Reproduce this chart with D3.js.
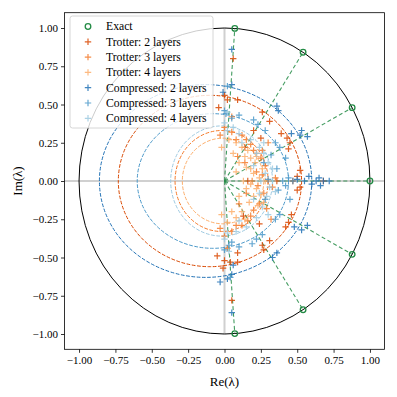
<!DOCTYPE html>
<html>
  <head>
    <meta charset="utf-8">
    <title>Eigenvalues</title>
    <script src="https://d3js.org/d3.v7.min.js"></script>
    <style>
      body { margin: 0; background: #fff; }
      text { font-family: "Liberation Serif", "DejaVu Serif", serif; fill: #000; }
    </style>
  </head>
  <body>
    <div id="graph"></div>
  </body>

  <script>
    // Exact eigenvalue phases (rad) on the unit circle
    const exact_phases = [0, 0.5, 1.0, 1.5, -0.5, -1.0, -1.5];

    // Eigenvalue estimates [Re, Im]
    const trotter_2 = [[0.06,0.80],[0.02,0.53],[0.09,0.53],[0.0,0.56],[0.26,0.45],[0.31,0.39],[0.39,0.31],[0.43,0.28],[0.45,0.25],[0.44,0.21],[0.52,0.07],[0.50,0.03],[0.16,0.0],[0.36,0.0],[0.47,0.0],[0.68,0.0],[0.25,0.28],[0.14,0.22],[-0.04,0.48],[0.20,0.33],
      [0.46,-0.22],[0.44,-0.27],[0.42,-0.30],[0.31,-0.39],[0.26,-0.42],[0.27,-0.45],[0.09,-0.47],[0.0,-0.52],[0.04,-0.53],[0.09,-0.53],[-0.01,-0.57],[-0.05,-0.49],[0.52,-0.04],[0.50,-0.06],[0.24,-0.28],[0.13,-0.23],[0.05,-0.78]];
    const trotter_3 = [[0.0,0.35],[0.05,0.32],[-0.03,0.30],[0.12,0.30],[0.15,0.27],[0.2,0.2],[0.22,0.18],[0.25,0.15],[0.28,0.1],[0.22,0.06],[0.30,0.0],[0.35,0.02],[0.19,0.0],[0.23,-0.03],[0.27,-0.08],[0.24,-0.15],[0.2,-0.19],[0.16,-0.26],[0.12,-0.29],[0.05,-0.33],[0.0,-0.36],[-0.03,-0.31],[0.09,0.16],[0.10,-0.15],[0.3,0.25],[0.32,-0.25],
      [0.08,0.27],[0.18,0.24],[0.26,0.2],[0.14,0.12],[0.26,0.04],[0.33,-0.04],[0.29,-0.18],[0.18,-0.23],[0.08,-0.29],[0.15,-0.08],[0.05,0.42],[0.02,-0.44]];
    const trotter_4 = [[0.03,0.27],[0.08,0.25],[0.12,0.22],[0.16,0.2],[0.18,0.15],[0.21,0.12],[0.15,0.09],[0.20,0.05],[0.24,0.02],[0.13,0.0],[0.18,-0.02],[0.22,-0.05],[0.2,-0.1],[0.17,-0.14],[0.12,-0.2],[0.08,-0.24],[0.02,-0.27],[0.1,0.12],[0.1,-0.1],[0.26,0.08],[0.25,-0.09],[-0.02,0.22],[-0.02,-0.22],
      [0.06,0.18],[0.14,0.16],[0.22,0.16],[0.18,0.08],[0.28,0.0],[0.15,-0.05],[0.23,-0.16],[0.14,-0.25],[0.05,-0.2],[0.08,0.06],[0.27,-0.14]];
    const compressed_2 = [[0.05,0.86],[0.05,0.63],[-0.01,0.58],[0.36,0.49],[0.37,0.46],[0.52,0.30],[0.53,0.33],[0.57,0.29],[0.46,0.31],[0.55,0.0],[0.58,0.03],[0.60,-0.02],[0.63,0.0],[0.65,0.02],[0.68,0.0],[0.72,0.0],[0.66,-0.03],[0.50,0.01],
      [0.53,-0.32],[0.48,-0.30],[0.57,-0.29],[0.36,-0.47],[0.33,-0.50],[0.05,-0.61],[0.02,-0.64],[-0.03,-0.66],[0.06,-0.55],[0.05,-0.86]];
    const compressed_3 = [[0.01,0.44],[0.05,0.41],[0.0,0.46],[0.2,0.40],[0.23,0.37],[0.35,0.25],[0.38,0.22],[0.32,0.17],[0.40,0.0],[0.44,0.02],[0.42,-0.03],[0.30,0.01],[0.47,0.0],[0.38,-0.22],[0.35,-0.25],[0.22,-0.38],[0.19,-0.41],[0.03,-0.42],[0.0,-0.45],[0.05,-0.40],[0.02,0.62],[0.04,-0.63],[0.28,-0.12],[0.27,0.12],
      [0.28,0.33],[0.42,0.15],[0.45,-0.12],[0.26,-0.35],[0.1,-0.43],[0.1,0.43],[0.36,0.08],[0.37,-0.06]];
    const compressed_4 = [[0.02,0.33],[0.06,0.35],[0.1,0.31],[0.18,0.27],[0.24,0.22],[0.27,0.18],[0.3,0.12],[0.28,0.05],[0.33,0.0],[0.31,-0.04],[0.29,-0.1],[0.26,-0.17],[0.22,-0.24],[0.15,-0.3],[0.08,-0.33],[0.02,-0.34],[0.02,0.45],[0.03,-0.46],[0.25,0.0],[0.2,0.1],[0.2,-0.12],
      [0.12,0.25],[0.22,0.18],[0.33,0.08],[0.35,-0.07],[0.24,-0.08],[0.1,-0.26],[0.27,0.25],[0.3,-0.22],[0.0,0.38],[0.0,-0.38]];

    const series_names = ["Trotter: 2 layers", "Trotter: 3 layers", "Trotter: 4 layers", "Compressed: 2 layers", "Compressed: 3 layers", "Compressed: 4 layers"];
    const series_points = [trotter_2, trotter_3, trotter_4, compressed_2, compressed_3, compressed_4];
    // Dashed guide curve for each series: centre on the real axis, half-widths along Re and Im
    const series_center = [-0.10, -0.02, -0.01, -0.13, -0.08, -0.02];
    const series_re_half = [0.63, 0.32, 0.28, 0.73, 0.52, 0.35];
    const series_im_half = [0.56, 0.33, 0.28, 0.63, 0.44, 0.36];
    const series_colors = ["#d94801", "#f57a2a", "#fdae6b", "#2171b5", "#4a98c9", "#9ecae1"];

    const ticks = [-1, -0.75, -0.5, -0.25, 0, 0.25, 0.5, 0.75, 1];

    const width = 397, height = 397;
    const margin = ({top: 12.7, right: 12.5, bottom: 47.7, left: 64.5});
    const green = "#238b45";

    let svg = d3.select("#graph").append("svg")
      .attr("width", width)
      .attr("height", height);

    let x = d3.scaleLinear().domain([-1.1, 1.1]).range([margin.left, width - margin.right]);
    let y = d3.scaleLinear().domain([-1.1, 1.1]).range([height - margin.bottom, margin.top]);

    svg.append("defs").append("clipPath").attr("id", "clip")
      .append("rect")
      .attr("x", margin.left).attr("y", margin.top)
      .attr("width", x(1.1) - x(-1.1)).attr("height", y(-1.1) - y(1.1));

    let plot = svg.append("g").attr("clip-path", "url(#clip)");

    // Light grey axes lines
    plot.append("line")
      .attr("x1", x(-1.1)).attr("x2", x(1.1))
      .attr("y1", y(0)).attr("y2", y(0))
      .attr("stroke", "#d0d0d0").attr("stroke-width", 2);
    plot.append("line")
      .attr("x1", x(0)).attr("x2", x(0))
      .attr("y1", y(-1)).attr("y2", y(1))
      .attr("stroke", "#d0d0d0").attr("stroke-width", 2);

    // Unit circle
    plot.append("ellipse")
      .attr("cx", x(0)).attr("cy", y(0))
      .attr("rx", x(1) - x(0)).attr("ry", y(0) - y(1))
      .attr("fill", "none").attr("stroke", "#000").attr("stroke-width", 1);

    // Dashed guide curves
    series_center.forEach(function(c, i) {
      plot.append("ellipse")
        .attr("cx", x(c)).attr("cy", y(0))
        .attr("rx", x(series_re_half[i]) - x(0)).attr("ry", y(0) - y(series_im_half[i]))
        .attr("fill", "none")
        .attr("stroke", series_colors[i])
        .attr("stroke-width", 1)
        .attr("stroke-dasharray", "3.7,1.6");
    });

    // Rays to the exact eigenvalues
    plot.selectAll(".ray").data(exact_phases).enter()
      .append("line")
      .attr("class", "ray")
      .attr("x1", x(0)).attr("y1", y(0))
      .attr("x2", d => x(Math.cos(d))).attr("y2", d => y(Math.sin(d)))
      .attr("stroke", green).attr("stroke-width", 1.1)
      .attr("stroke-opacity", 0.85)
      .attr("stroke-dasharray", "4,2.6");

    // Plus markers
    function plus(g, cx, cy, s, color) {
      g.append("path")
        .attr("d", `M${cx - s},${cy}H${cx + s}M${cx},${cy - s}V${cy + s}`)
        .attr("stroke", color).attr("stroke-width", 1.2)
        .attr("stroke-opacity", 0.85);
    }
    series_points.forEach(function(pts, i) {
      let g = plot.append("g");
      pts.forEach(p => plus(g, x(p[0]), y(p[1]), 3.2, series_colors[i]));
    });

    // Exact eigenvalues
    plot.selectAll(".exact").data(exact_phases).enter()
      .append("circle")
      .attr("class", "exact")
      .attr("cx", d => x(Math.cos(d))).attr("cy", d => y(Math.sin(d)))
      .attr("r", 2.8)
      .attr("fill", "none").attr("stroke", green).attr("stroke-width", 1.3);

    // Frame
    svg.append("rect")
      .attr("x", margin.left).attr("y", margin.top)
      .attr("width", x(1.1) - x(-1.1)).attr("height", y(-1.1) - y(1.1))
      .attr("fill", "none").attr("stroke", "#000").attr("stroke-width", 0.8);

    const fmt = d => d3.format(".2f")(d).replace("-", "\u2212");
    let x_axis = d3.axisBottom(x).tickValues(ticks).tickFormat(fmt).tickSize(3.5).tickPadding(3);
    let y_axis = d3.axisLeft(y).tickValues(ticks).tickFormat(fmt).tickSize(3.5).tickPadding(3);
    let gx = svg.append("g").attr("transform", `translate(0, ${height - margin.bottom})`).call(x_axis);
    let gy = svg.append("g").attr("transform", `translate(${margin.left}, 0)`).call(y_axis);
    [gx, gy].forEach(g => {
      g.select(".domain").remove();
      g.selectAll("line").attr("stroke-width", 0.8);
      g.selectAll("text").style("font-family", "Liberation Serif").style("font-size", "11px");
    });

    svg.append("text")
      .attr("x", x(0)).attr("y", 386)
      .style("text-anchor", "middle").style("font-size", "13px")
      .text("Re(λ)");
    svg.append("text")
      .attr("transform", `translate(22, ${y(0)}) rotate(-90)`)
      .style("text-anchor", "middle").style("font-size", "13px")
      .text("Im(λ)");

    // Legend
    let legend = svg.append("g");
    legend.append("rect")
      .attr("x", 70).attr("y", 16).attr("width", 143).attr("height", 112)
      .attr("rx", 2.5)
      .attr("fill", "#fff").attr("fill-opacity", 0.8)
      .attr("stroke", "#ccc").attr("stroke-width", 0.8);
    const row_y = i => 26.5 + i * 15.3;
    legend.append("circle")
      .attr("cx", 88).attr("cy", row_y(0)).attr("r", 2.8)
      .attr("fill", "none").attr("stroke", green).attr("stroke-width", 1.3);
    legend.append("text").attr("x", 106).attr("y", row_y(0) + 3.8)
      .style("font-size", "11.7px").text("Exact");
    series_names.forEach(function(name, i) {
      plus(legend, 88, row_y(i + 1), 3.2, series_colors[i]);
      legend.append("text").attr("x", 106).attr("y", row_y(i + 1) + 3.8)
        .style("font-size", "11.7px").text(name);
    });
  </script>
</html>
